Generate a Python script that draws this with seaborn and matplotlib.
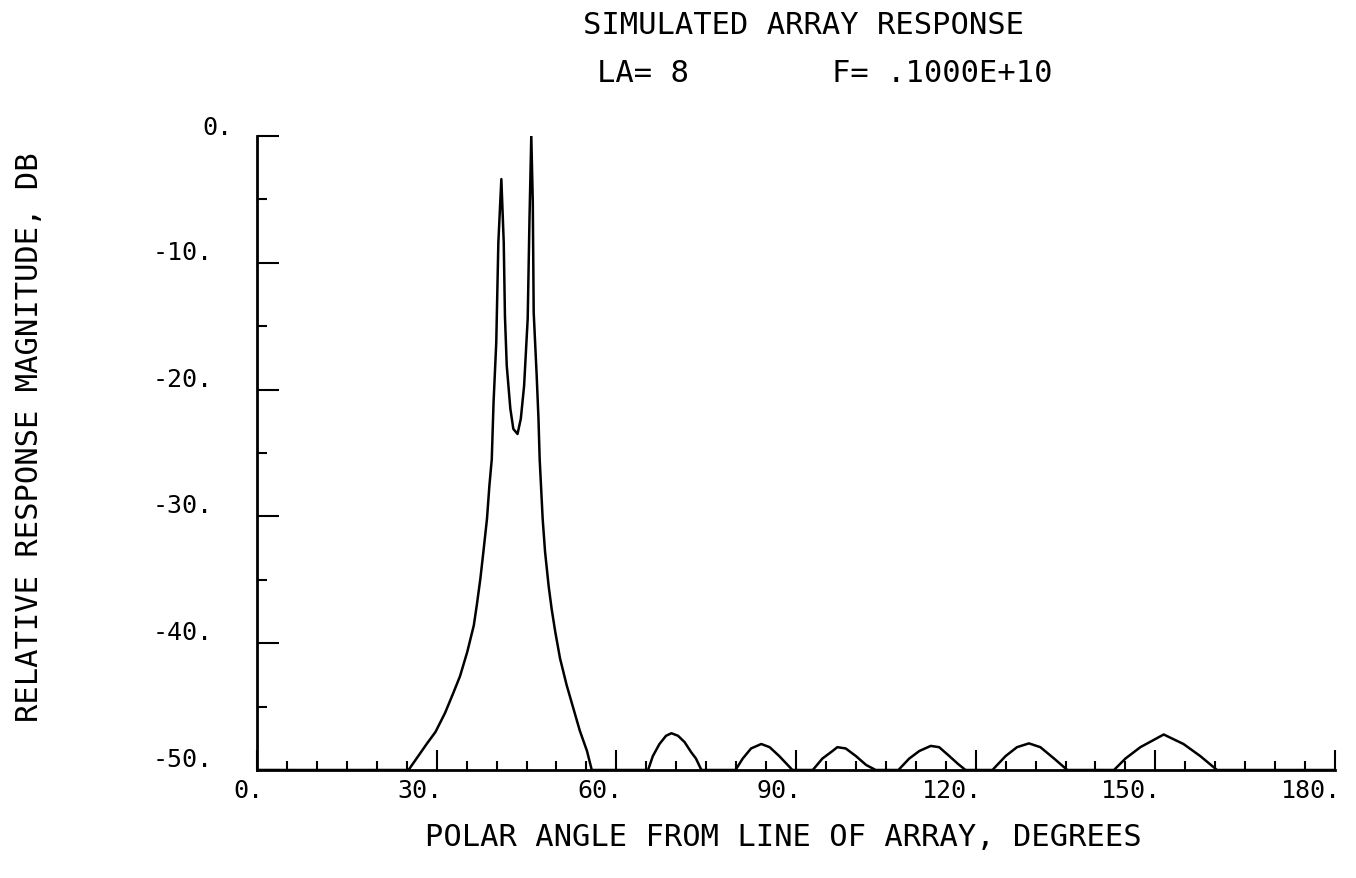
import numpy as np
import pandas as pd
import matplotlib
matplotlib.use("Agg")
import matplotlib.pyplot as plt
from matplotlib.transforms import ScaledTranslation
import seaborn as sns

# Main lobe (split beam) of the simulated array response
main_angle = [25.3, 28.4, 29.8, 31.4, 32.8, 33.9, 35.1, 36.2, 36.7, 37.3, 37.8,
              38.4, 38.8, 39.2, 39.5, 39.95, 40.3, 40.8, 41.2, 41.4, 41.7, 42.3,
              42.8, 43.5, 44.05, 44.6, 45.2, 45.5, 45.8, 46.05, 46.2, 46.7, 47.0,
              47.2, 47.7, 48.1, 48.7, 49.2, 49.8, 50.6, 51.7, 52.8, 53.9, 55.1, 55.9]
main_db = [-50.0, -47.9, -47.0, -45.5, -43.9, -42.6, -40.7, -38.6, -37.0, -34.9, -32.8,
           -30.2, -27.6, -25.5, -21.0, -16.3, -8.4, -3.4, -8.4, -14.2, -18.1, -21.5,
           -23.1, -23.5, -22.3, -19.7, -14.4, -6.5, 0.0, -5.2, -13.9, -18.9, -22.3,
           -25.5, -30.2, -32.8, -35.5, -37.3, -39.1, -41.2, -43.3, -45.1, -46.9, -48.5, -50.0]

# Sidelobes above the -50 dB floor
side1_angle = [65.3, 66.1, 67.2, 68.3, 69.2, 70.3, 71.4, 72.5, 73.3, 74.2]
side1_db = [-50.0, -48.9, -47.95, -47.3, -47.1, -47.3, -47.8, -48.6, -49.1, -50.0]
side2_angle = [79.9, 81.1, 82.5, 84.2, 85.6, 87.2, 88.6, 89.4]
side2_db = [-50.0, -49.1, -48.3, -47.95, -48.2, -48.9, -49.6, -50.0]
side3_angle = [92.8, 94.4, 96.1, 96.9, 98.3, 100.0, 101.7, 103.3]
side3_db = [-50.0, -49.1, -48.5, -48.2, -48.3, -48.9, -49.6, -50.0]
side4_angle = [107.1, 108.9, 110.6, 112.5, 113.9, 115.6, 117.0, 118.3]
side4_db = [-50.0, -49.1, -48.5, -48.1, -48.2, -48.9, -49.5, -50.0]
side5_angle = [122.8, 125.0, 126.9, 128.9, 130.8, 133.1, 135.3]
side5_db = [-50.0, -48.9, -48.2, -47.9, -48.2, -49.1, -50.0]
side6_angle = [143.1, 145.0, 147.5, 151.4, 154.7, 157.5, 160.3]
side6_db = [-50.0, -49.1, -48.2, -47.2, -47.95, -48.9, -50.0]

x_ticks = [0, 30, 60, 90, 120, 150, 180]
x_tick_labels = ["0.", "30.", "60.", "90.", "120.", "150.", "180."]
y_ticks = [-50, -40, -30, -20, -10, 0]
y_tick_labels = ["-50.", "-40.", "-30.", "-20.", "-10.", "0."]

title_line1 = "SIMULATED ARRAY RESPONSE"
title_la = "LA= 8"
title_f = "F= .1000E+10"
x_title = "POLAR ANGLE FROM LINE OF ARRAY, DEGREES"
y_title = "RELATIVE RESPONSE MAGNITUDE, DB"

# Assemble one continuous trace, resting on the -50 dB floor between lobes
floor = -50.0
angle = [0.0] + main_angle
db = [floor] + main_db
for a, d in [(side1_angle, side1_db), (side2_angle, side2_db), (side3_angle, side3_db),
             (side4_angle, side4_db), (side5_angle, side5_db), (side6_angle, side6_db)]:
    angle += a
    db += d
angle.append(180.0)
db.append(floor)
df = pd.DataFrame({"angle": angle, "db": db})

sns.set_theme(style="white")
plt.rcParams["font.family"] = ["DejaVu Sans Mono", "DejaVu Sans"]
plt.rcParams["text.color"] = "black"
plt.rcParams["xtick.color"] = "black"
plt.rcParams["ytick.color"] = "black"

fig = plt.figure(figsize=(13.56, 8.79), dpi=100)
ax = fig.add_axes([257 / 1356, 1 - 771 / 879, (1335 - 257) / 1356, (771 - 137) / 879])

sns.lineplot(data=df, x="angle", y="db", sort=False, estimator=None,
             color="black", linewidth=1.8, ax=ax)

ax.set_xlim(0, 180)
ax.set_ylim(-50, 0)
for side in ["top", "right"]:
    ax.spines[side].set_visible(False)
for side in ["left", "bottom"]:
    ax.spines[side].set_color("black")
    ax.spines[side].set_linewidth(2.0)

ax.set_xticks(x_ticks)
ax.set_xticklabels(x_tick_labels)
ax.set_xticks(np.arange(0, 181, 5), minor=True)
ax.set_yticks(y_ticks)
ax.set_yticklabels(y_tick_labels)
ax.set_yticks(np.arange(-50, 1, 5), minor=True)

ax.tick_params(axis="x", which="major", direction="in", length=14.5, width=1.5,
               labelsize=18, pad=6, bottom=True, labelcolor="black")
ax.tick_params(axis="x", which="minor", direction="in", length=6.5, width=1.5,
               bottom=True)
ax.tick_params(axis="y", which="major", direction="in", length=16, width=1.5,
               labelsize=18, pad=32, left=True, labelcolor="black")
ax.tick_params(axis="y", which="minor", direction="in", length=7.5, width=1.5,
               left=True)

# Axis numbers sit with their trailing period next to the tick
shift_x = ScaledTranslation(6 / 100, 0, fig.dpi_scale_trans)
for lab in ax.get_xticklabels():
    lab.set_ha("right")
    lab.set_transform(lab.get_transform() + shift_x)

for lab in ax.get_yticklabels():
    lab.set_va("baseline")
    if lab.get_text() == "0.":
        dx, dy = 20 / 100, 2 / 100
    else:
        dx, dy = 0.0, 4 / 100
    lab.set_transform(lab.get_transform() + ScaledTranslation(dx, dy, fig.dpi_scale_trans))

ax.set_xlabel("")
ax.set_ylabel("")
ax.grid(False)

title_size = 22
fig.text(803 / 1356, 1 - 25 / 879, title_line1, ha="center", va="center", fontsize=title_size)
fig.text(597 / 1356, 1 - 73 / 879, title_la, ha="left", va="center", fontsize=title_size)
fig.text(832 / 1356, 1 - 73 / 879, title_f, ha="left", va="center", fontsize=title_size)
fig.text(783 / 1356, 1 - 838 / 879, x_title, ha="center", va="center", fontsize=title_size)
fig.text(30 / 1356, 1 - 437 / 879, y_title, ha="center", va="center",
         rotation=90, fontsize=title_size)

fig.savefig("out.png", dpi=100, facecolor="white")
